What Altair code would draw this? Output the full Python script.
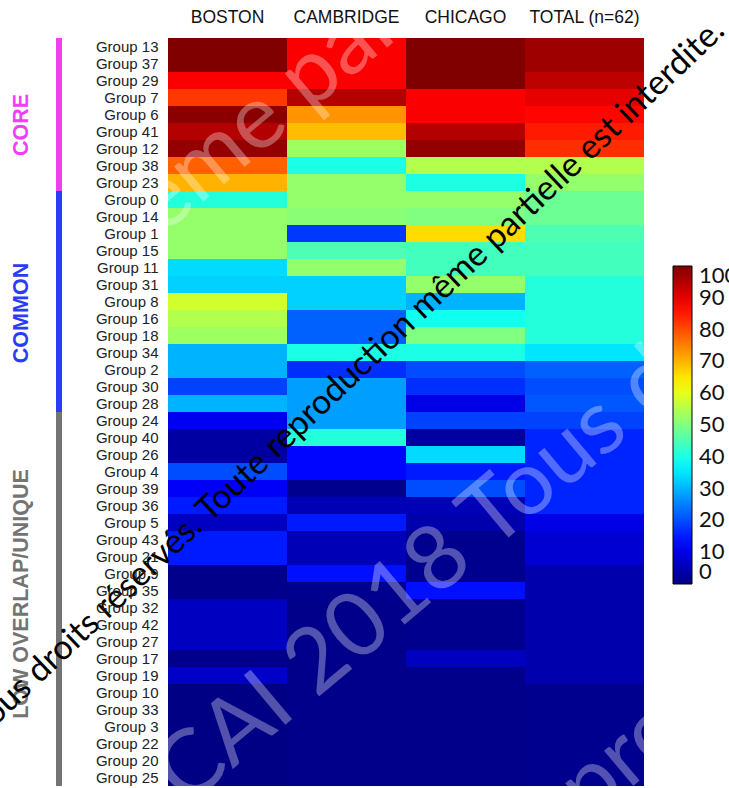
import altair as alt
import pandas as pd

# Row order (top to bottom) and column order
groups = [
    "Group 13", "Group 37", "Group 29", "Group 7", "Group 6", "Group 41", "Group 12",
    "Group 38", "Group 23", "Group 0", "Group 14", "Group 1", "Group 15", "Group 11",
    "Group 31", "Group 8", "Group 16", "Group 18", "Group 34", "Group 2", "Group 30",
    "Group 28", "Group 24", "Group 40", "Group 26", "Group 4", "Group 39", "Group 36",
    "Group 5", "Group 43", "Group 21", "Group 9", "Group 35", "Group 32", "Group 42",
    "Group 27", "Group 17", "Group 19", "Group 10", "Group 33", "Group 3", "Group 22",
    "Group 20", "Group 25",
]
sites = ["BOSTON", "CAMBRIDGE", "CHICAGO", "TOTAL (n=62)"]

# Percentage per group and site
boston = [100, 100, 88, 82, 99, 95, 98, 78, 70, 41, 52, 52, 52, 34, 33, 58, 55, 53,
          30, 30, 19, 30, 11, 3, 3, 20, 12, 15, 6, 15, 15, 0.5, 0.5, 6, 6, 6, 0.5, 7,
          0, 0, 0, 0, 0, 0]
cambridge = [88, 88, 88, 95, 73, 69, 53, 40, 52, 52, 51, 18, 45, 52, 33, 33, 22, 22,
             40, 17, 28, 28, 28, 41, 13, 13, 1, 5, 15, 5, 5, 14, 1, 0.5, 0.5, 0.5,
             0.5, 0.5, 0.5, 0.5, 0.5, 0.5, 0.5, 0.5]
chicago = [100, 100, 100, 88, 88, 95, 98, 55, 40, 52, 50, 66, 44, 44, 52, 30, 39, 50,
           40, 20, 17, 10, 19, 3, 34, 15, 20, 5, 4, 1, 1, 1, 14, 1, 1, 1, 6, 0.5,
           0.5, 0.5, 0.5, 0.5, 0.5, 0.5]
total = [97, 97, 94, 90, 87, 85, 83, 55, 52, 48, 48, 45, 44, 44, 41, 41, 41, 41, 35,
         22, 20, 21, 19, 16, 16, 16, 16, 16, 10, 8, 8, 4, 4, 4, 4, 4, 4, 4, 1, 1, 1,
         1, 1, 1]

# Overlap category of each row
categories = ["CORE", "COMMON", "LOW OVERLAP/UNIQUE"]
category_sizes = [9, 13, 22]
category_colors = ["#f23ef2", "#2b3cf5", "#747474"]

# MATLAB-style jet colormap stops
jet_stops = [0, 12.5, 37.5, 62.5, 87.5, 100]
jet_colors = ["#000085", "#0000ff", "#00ffff", "#ffff00", "#ff0000", "#800000"]
legend_ticks = list(range(0, 101, 10))

heat_df = pd.DataFrame(
    [
        {"site": s, "group": g, "pct": v}
        for s, vals in zip(sites, [boston, cambridge, chicago, total])
        for g, v in zip(groups, vals)
    ]
)
row_category = [c for c, n in zip(categories, category_sizes) for _ in range(n)]
band_df = pd.DataFrame({"group": groups, "category": row_category})

heat = alt.Chart(heat_df).mark_rect().encode(
    x=alt.X(
        "site:N", sort=sites, title=None,
        scale=alt.Scale(paddingInner=0, paddingOuter=0),
        axis=alt.Axis(orient="top", labelAngle=0, labelFontSize=17.5,
                      labelFont="Liberation Sans", labelColor="#111",
                      ticks=False, tickSize=0, domain=False, labelPadding=12),
    ),
    y=alt.Y(
        "group:N", sort=groups, title=None,
        scale=alt.Scale(paddingInner=0, paddingOuter=0),
        axis=alt.Axis(labelFontSize=15, labelFont="Liberation Sans",
                      labelColor="#222", ticks=False, tickSize=0, domain=False,
                      labelPadding=10),
    ),
    color=alt.Color(
        "pct:Q",
        scale=alt.Scale(domain=jet_stops, range=jet_colors, interpolate="rgb"),
        legend=alt.Legend(
            title=None, orient="none", legendX=505, legendY=228,
            direction="vertical", gradientLength=318, gradientThickness=19,
            gradientStrokeColor="black", gradientStrokeWidth=1,
            labelFontSize=22, labelFont="Lato", labelColor="#111",
            labelOffset=7, labelOverlap=False,
            values=legend_ticks, padding=0,
        ),
    ),
)

bands = alt.Chart(band_df).mark_rect().encode(
    y=alt.Y("group:N", sort=groups),
    x=alt.value(-112),
    x2=alt.value(-106),
    fill=alt.Fill("category:N",
                  scale=alt.Scale(domain=categories, range=category_colors),
                  legend=None),
)


def side_label(text, color, ypos):
    return alt.Chart(pd.DataFrame({"t": [text]})).mark_text(
        angle=270, align="center", baseline="middle", font="Liberation Sans",
        fontSize=21.5, fontWeight="bold", color=color,
    ).encode(text="t:N", x=alt.value(-146), y=alt.value(ypos))


labels = [
    side_label("CORE", category_colors[0], 87),
    side_label("COMMON", category_colors[1], 275),
    side_label("LOW OVERLAP/UNIQUE", category_colors[2], 556),
]


def stamp(text, xpos, ypos, angle, size, color, opacity, align):
    return alt.Chart(pd.DataFrame({"t": [text]})).mark_text(
        angle=angle, align=align, baseline="middle", font="Lato",
        fontSize=size, color=color, opacity=opacity,
    ).encode(text="t:N", x=alt.value(xpos), y=alt.value(ypos))


notice = "Tous droits réservés. Toute reproduction même partielle est interdite."
stamps = [
    stamp("même partielle est interdite.", -80, 225, 320, 90, "white", 0.32, "left"),
    stamp("© CAI 2018 Tous droits réservés.", -74, 812, 320, 90, "white", 0.32, "left"),
    stamp("Toute reproduction", 156, 972, 320, 90, "white", 0.32, "left"),
    stamp(notice, 180, 340, 316.5, 34, "black", 1, "center"),
]

chart = (
    alt.layer(heat, bands, *labels, *stamps)
    .properties(
        width=476, height=748,
        padding={"left": 168, "top": 38, "right": 85, "bottom": 2},
        autosize=alt.AutoSizeParams(type="none"),
        background="white",
    )
    .configure_view(stroke=None)
)

chart.save("out.html", embed_options={"renderer": "svg", "actions": False})
